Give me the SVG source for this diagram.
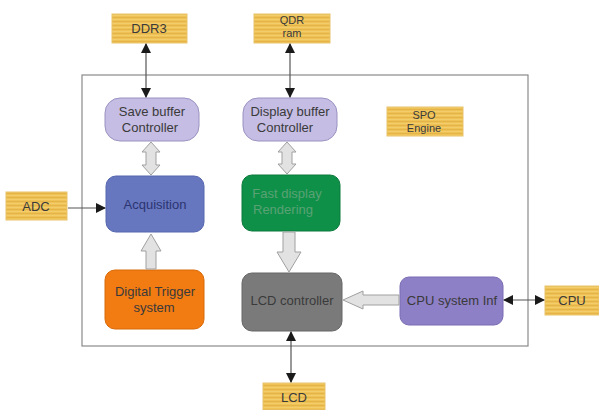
<svg xmlns="http://www.w3.org/2000/svg" width="599" height="410" viewBox="0 0 599 410">
<defs>
<pattern id="wood" width="8" height="4" patternUnits="userSpaceOnUse">
<rect width="8" height="4" fill="#efc256"/>
<rect y="1" width="8" height="1" fill="#dcaa40" opacity="0.6"/>
<rect y="3" width="8" height="0.6" fill="#f8d98a" opacity="0.7"/>
</pattern>
<marker id="ah" viewBox="0 0 10 10" refX="9" refY="5" markerWidth="10" markerHeight="10" markerUnits="userSpaceOnUse" orient="auto-start-reverse">
<path d="M0,0 L10,5 L0,10 Z" fill="#1a1a1a"/>
</marker>
<style>
.lbl{fill:url(#wood);stroke:#e8c26a;stroke-width:1}
.t{font-family:"Liberation Sans",Arial,sans-serif;font-size:13px;text-anchor:middle}
.s{font-size:11px}
.dk{fill:#3a3a3a}
.ln{stroke:#555;stroke-width:1.2;fill:none}
.blk{fill:#e2e2e2;stroke:#a0a0a0;stroke-width:1}
</style>
</defs>
<rect width="599" height="410" fill="#fff"/>
<rect id="frame" x="82" y="75" width="446" height="271" fill="none" stroke="#8a8a8a" stroke-width="1.2"/>

<g id="ddr3"><rect class="lbl" x="112" y="14" width="75" height="29"/><text class="t dk" x="149" y="33">DDR3</text></g>
<g id="qdr"><rect class="lbl" x="254" y="14" width="76" height="29"/><text class="t dk s" x="292" y="24">QDR</text><text class="t dk s" x="292" y="37">ram</text></g>
<g id="spo"><rect class="lbl" x="387" y="107" width="76" height="29"/><text class="t dk s" x="424" y="119">SPO</text><text class="t dk s" x="424" y="132">Engine</text></g>
<g id="adc"><rect class="lbl" x="6" y="192" width="61" height="28"/><text class="t dk" x="36" y="211">ADC</text></g>
<g id="cpu"><rect class="lbl" x="545" y="286" width="54" height="29"/><text class="t dk" x="572" y="305">CPU</text></g>
<g id="lcd"><rect class="lbl" x="263" y="383" width="62" height="27"/><text class="t dk" x="294" y="402">LCD</text></g>

<g id="savebuf"><rect x="105" y="98" width="94" height="43" rx="15" fill="#c5bde3" stroke="#9a92c0"/><text class="t dk" x="152" y="116">Save buffer</text><text class="t dk" x="150" y="132">Controller</text></g>
<g id="dispbuf"><rect x="243" y="98" width="94" height="43" rx="15" fill="#c5bde3" stroke="#9a92c0"/><text class="t dk" x="290" y="116">Display buffer</text><text class="t dk" x="285" y="132">Controller</text></g>
<g id="acq"><rect x="106" y="176" width="98" height="56" rx="10" fill="#6676bf" stroke="#5666ae"/><text class="t" x="155" y="209" fill="#2c3570">Acquisition</text></g>
<g id="fast"><rect x="242" y="175" width="98" height="56" rx="10" fill="#0f9049" stroke="#0c7a3c"/><text class="t" x="287" y="198" fill="#5aa274">Fast display</text><text class="t" x="283" y="214" fill="#5aa274">Rendering</text></g>
<g id="trig"><rect x="105" y="270" width="99" height="59" rx="10" fill="#f27b12" stroke="#d86a08"/><text class="t dk" x="155" y="296">Digital Trigger</text><text class="t dk" x="154" y="312">system</text></g>
<g id="lcdctl"><rect x="242" y="273" width="100" height="58" rx="10" fill="#7a7a7a" stroke="#666"/><text class="t dk" x="292" y="305">LCD controller</text></g>
<g id="cpuinf"><rect x="400" y="277" width="103" height="48" rx="9" fill="#8e80c6" stroke="#7a6cb4"/><text class="t dk" x="452" y="305">CPU system Inf</text></g>

<g id="connectors">
<line class="ln" x1="146" y1="44" x2="146" y2="97" marker-start="url(#ah)" marker-end="url(#ah)"/>
<line class="ln" x1="290" y1="44" x2="290" y2="97" marker-start="url(#ah)" marker-end="url(#ah)"/>
<line class="ln" x1="68" y1="208" x2="105" y2="208" marker-end="url(#ah)"/>
<line class="ln" x1="504" y1="300" x2="544" y2="300" marker-start="url(#ah)" marker-end="url(#ah)"/>
<line class="ln" x1="291" y1="332" x2="291" y2="382" marker-start="url(#ah)" marker-end="url(#ah)"/>
<path class="blk" d="M151,142 L160,152 L156,152 L156,165 L160,165 L151,175 L142,165 L146,165 L146,152 L142,152 Z"/>
<path class="blk" d="M287,142 L296,152 L292,152 L292,164 L296,164 L287,174 L278,164 L282,164 L282,152 L278,152 Z"/>
<path class="blk" d="M151,234 L161,251 L156,251 L156,269 L146,269 L146,251 L141,251 Z"/>
<path class="blk" d="M289,272 L277,252 L283,252 L283,232 L295,232 L295,252 L301,252 Z"/>
<path class="blk" d="M343,300 L363,291 L363,295 L399,295 L399,305 L363,305 L363,309 Z"/>
</g>
</svg>
